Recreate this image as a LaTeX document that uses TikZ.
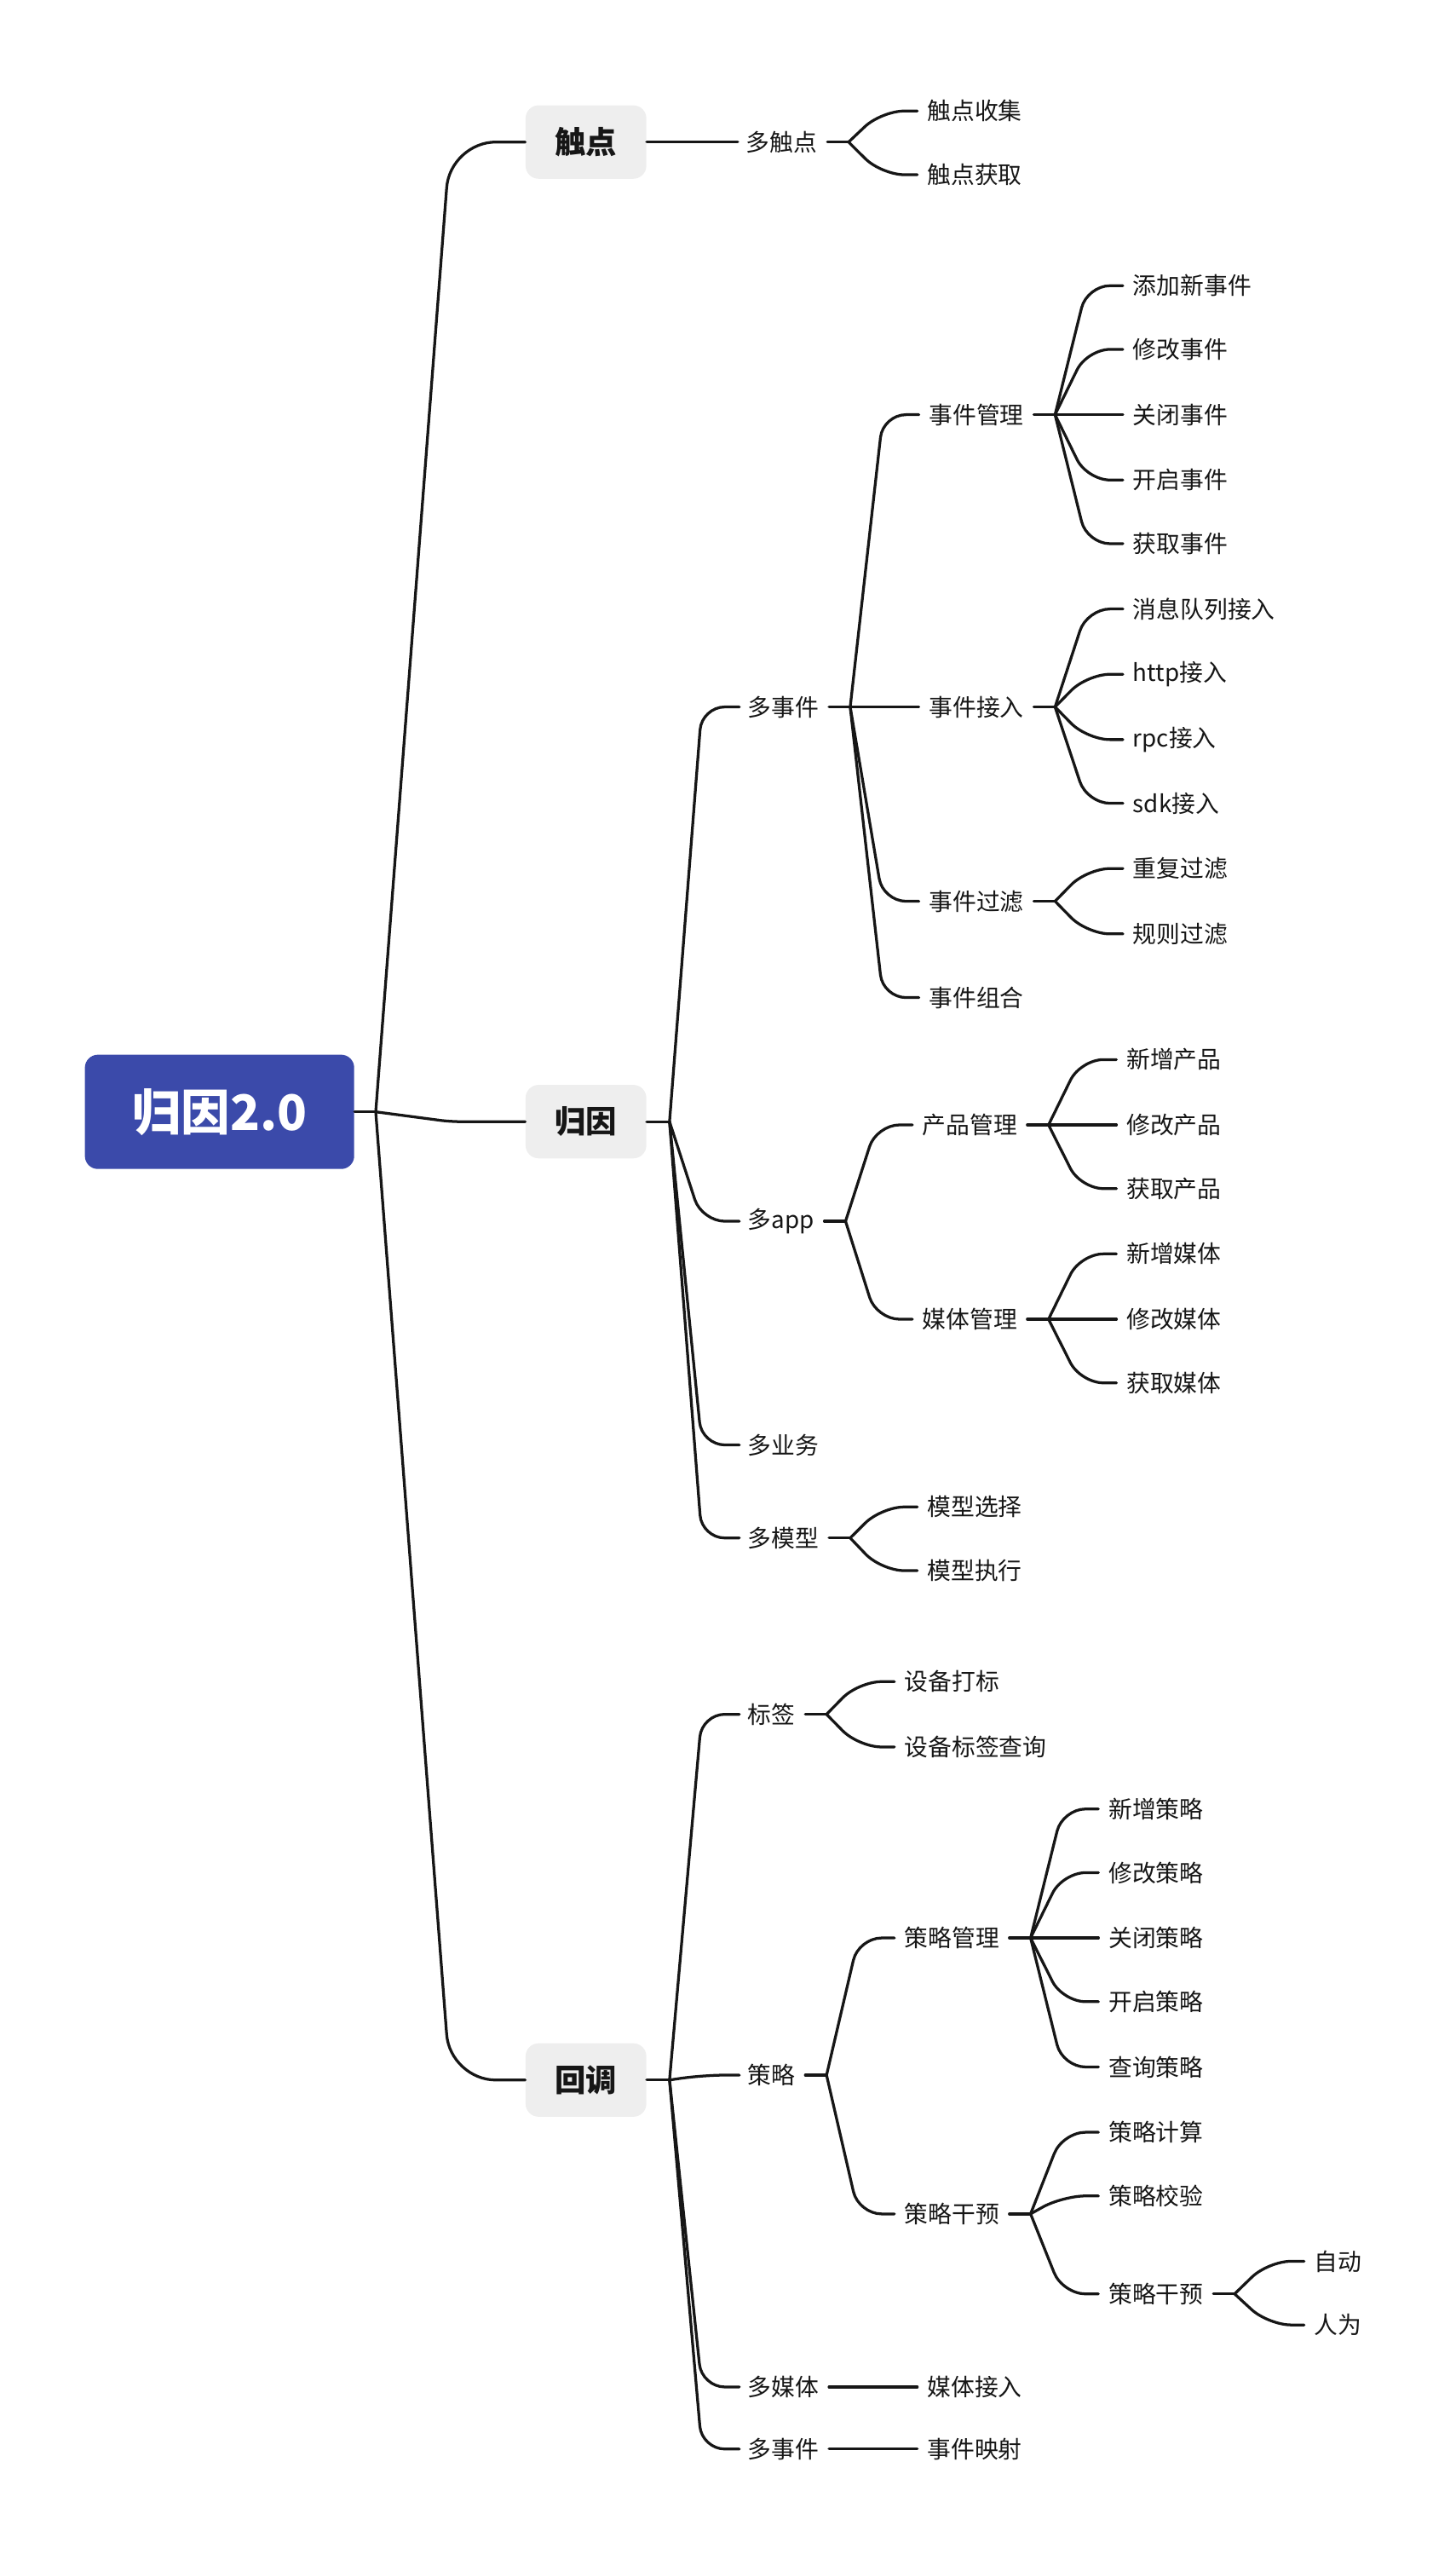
\documentclass[tikz,border=0pt]{standalone}
\usepackage{fontspec}
\setmainfont{Noto Sans CJK SC}
\usetikzlibrary{calc}
\definecolor{rootblue}{RGB}{59,74,170}
\definecolor{topicgray}{RGB}{238,238,238}
\definecolor{ink}{RGB}{22,22,22}
\tikzset{
  root/.style={fill=rootblue, text=white, rounded corners=8pt, minimum width=165pt, minimum height=70pt, font=\fontsize{30}{34}\selectfont\bfseries},
  topic/.style={fill=topicgray, text=ink, rounded corners=8pt, minimum width=74pt, minimum height=45pt, font=\fontsize{19}{22}\selectfont\bfseries},
  leaf/.style={anchor=west, inner sep=0pt, text=ink, font=\fontsize{14.5}{17}\selectfont},
  link/.style={draw=ink, line width=1.7pt, line cap=round, rounded corners=14pt},
}

\begin{document}
\begin{tikzpicture}[x=1pt, y=-1pt]
    \useasboundingbox (0,0) rectangle (892,1568);

    % root and topics
    \node[root] (root) at (134.5,681) {归因2.0};
    \node[topic] (chudian) at (359,87) {触点};
    \node[topic] (guiyin) at (359,687) {归因};
    \node[topic] (huidiao) at (359,1274) {回调};

    % 触点
    \node[leaf] (duochudian) at (457,87) {多触点};
    \node[leaf] (cdshouji) at (568,68) {触点收集};
    \node[leaf] (cdhuoqu) at (568,107) {触点获取};

    % 归因
    \node[leaf] (duoshijian) at (458,433) {多事件};
    \node[leaf] (sjguanli) at (569,254) {事件管理};
    \node[leaf] (sjtianjia) at (694,175) {添加新事件};
    \node[leaf] (sjxiugai) at (694,214) {修改事件};
    \node[leaf] (sjguanbi) at (694,254) {关闭事件};
    \node[leaf] (sjkaiqi) at (694,294) {开启事件};
    \node[leaf] (sjhuoqu) at (694,333) {获取事件};
    \node[leaf] (sjjieru) at (569,433) {事件接入};
    \node[leaf] (jrmq) at (694,373) {消息队列接入};
    \node[leaf] (jrhttp) at (694,413) {http接入};
    \node[leaf] (jrrpc) at (694,453) {rpc接入};
    \node[leaf] (jrsdk) at (694,492) {sdk接入};
    \node[leaf] (sjguolv) at (569,552) {事件过滤};
    \node[leaf] (glchongfu) at (694,532) {重复过滤};
    \node[leaf] (glguize) at (694,572) {规则过滤};
    \node[leaf] (sjzuhe) at (569,611) {事件组合};
    \node[leaf] (duoapp) at (458,748) {多app};
    \node[leaf] (cpguanli) at (565,689) {产品管理};
    \node[leaf] (cpxinzeng) at (690,649) {新增产品};
    \node[leaf] (cpxiugai) at (690,689) {修改产品};
    \node[leaf] (cphuoqu) at (690,728) {获取产品};
    \node[leaf] (mtguanli) at (565,808) {媒体管理};
    \node[leaf] (mtxinzeng) at (690,768) {新增媒体};
    \node[leaf] (mtxiugai) at (690,808) {修改媒体};
    \node[leaf] (mthuoqu) at (690,847) {获取媒体};
    \node[leaf] (duoyewu) at (458,885) {多业务};
    \node[leaf] (duomoxing) at (458,942) {多模型};
    \node[leaf] (mxxuanze) at (568,923) {模型选择};
    \node[leaf] (mxzhixing) at (568,962) {模型执行};

    % 回调
    \node[leaf] (biaoqian) at (458,1050) {标签};
    \node[leaf] (sbdabiao) at (554,1030) {设备打标};
    \node[leaf] (sbchaxun) at (554,1070) {设备标签查询};
    \node[leaf] (celve) at (458,1271) {策略};
    \node[leaf] (clguanli) at (554,1187) {策略管理};
    \node[leaf] (clxinzeng) at (679,1108) {新增策略};
    \node[leaf] (clxiugai) at (679,1147) {修改策略};
    \node[leaf] (clguanbi) at (679,1187) {关闭策略};
    \node[leaf] (clkaiqi) at (679,1226) {开启策略};
    \node[leaf] (clchaxun) at (679,1266) {查询策略};
    \node[leaf] (clganyu) at (554,1356) {策略干预};
    \node[leaf] (cljisuan) at (679,1306) {策略计算};
    \node[leaf] (cljiaoyan) at (679,1345) {策略校验};
    \node[leaf] (clganyub) at (679,1405) {策略干预};
    \node[leaf] (zidong) at (805,1385) {自动};
    \node[leaf] (renwei) at (805,1424) {人为};
    \node[leaf] (duomeiti) at (458,1462) {多媒体};
    \node[leaf] (mtjieru) at (568,1462) {媒体接入};
    \node[leaf] (duosj) at (458,1500) {多事件};
    \node[leaf] (sjyingshe) at (568,1500) {事件映射};

    % root -> topics
    \coordinate (root-f) at ($(root.east)+(13,0)$);
    \draw[link] (root.east) -- (root-f);
    \draw[link, rounded corners=28pt] (root-f) -- ($(chudian.west)+(-46,0)$) -- (chudian.west);
    \draw[link, rounded corners=6pt] (root-f) -- ($(guiyin.west)+(-46,0)$) -- (guiyin.west);
    \draw[link, rounded corners=28pt] (root-f) -- ($(huidiao.west)+(-46,0)$) -- (huidiao.west);

    % topics -> second level
    \foreach \t/\kids in {chudian/{duochudian}, guiyin/{duoshijian,duoapp,duoyewu,duomoxing},
                          huidiao/{biaoqian,celve,duomeiti,duosj}} {
        \coordinate (\t-f) at ($(\t.east)+(14,0)$);
        \draw[link] (\t.east) -- (\t-f);
        \foreach \c in \kids
            \draw[link] (\t-f) -- ($(\c.west)+(-28,0)$) -- ($(\c.west)+(-5,0)$);
    }

    % text -> text
    \foreach \p/\kids in {duochudian/{cdshouji,cdhuoqu},
                          duoshijian/{sjguanli,sjjieru,sjguolv,sjzuhe},
                          sjguanli/{sjtianjia,sjxiugai,sjguanbi,sjkaiqi,sjhuoqu},
                          sjjieru/{jrmq,jrhttp,jrrpc,jrsdk},
                          sjguolv/{glchongfu,glguize},
                          duoapp/{cpguanli,mtguanli},
                          cpguanli/{cpxinzeng,cpxiugai,cphuoqu},
                          mtguanli/{mtxinzeng,mtxiugai,mthuoqu},
                          duomoxing/{mxxuanze,mxzhixing},
                          biaoqian/{sbdabiao,sbchaxun},
                          celve/{clguanli,clganyu},
                          clguanli/{clxinzeng,clxiugai,clguanbi,clkaiqi,clchaxun},
                          clganyu/{cljisuan,cljiaoyan,clganyub},
                          clganyub/{zidong,renwei},
                          duomeiti/{mtjieru},
                          duosj/{sjyingshe}} {
        \coordinate (\p-f) at ($(\p.east)+(19,0)$);
        \draw[link] ($(\p.east)+(6,0)$) -- (\p-f);
        \foreach \c in \kids
            \draw[link] (\p-f) -- ($(\c.west)+(-28,0)$) -- ($(\c.west)+(-6,0)$);
    }
\end{tikzpicture}
\end{document}
